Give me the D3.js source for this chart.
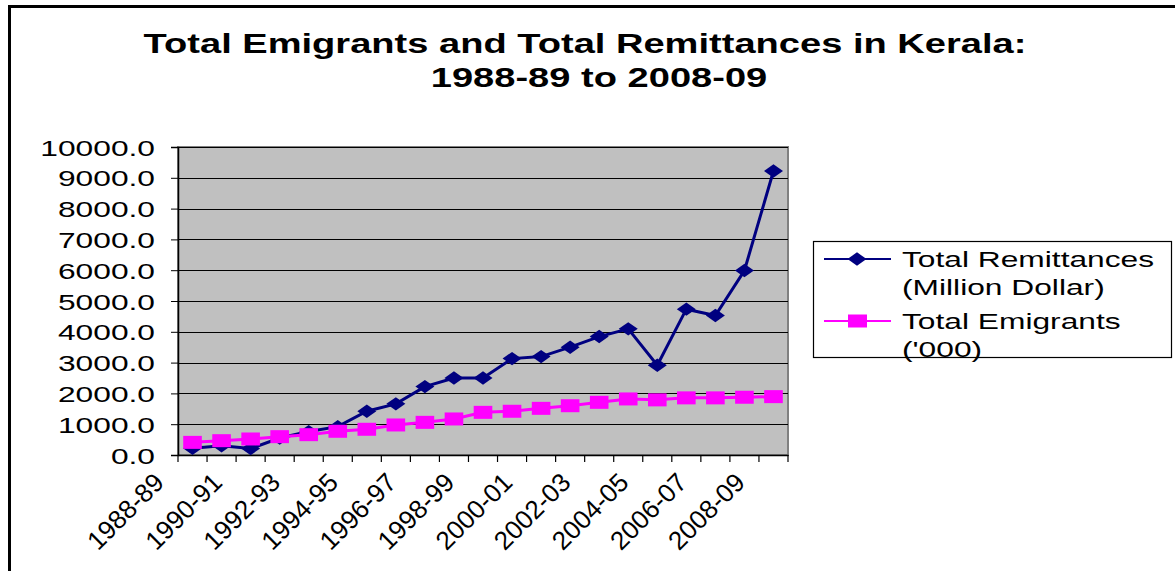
<!DOCTYPE html>
<html>
<head>
<meta charset="utf-8">
<script src="https://cdn.jsdelivr.net/npm/d3@7"></script>
<style>
  body { margin: 0; background: #fff; }
  svg text { font-family: "Liberation Sans", Arial, sans-serif; }
</style>
</head>
<body>
<svg id="chart" width="1175" height="571"></svg>
<script>
// data
const years = ['1988-89','1989-90','1990-91','1991-92','1992-93','1993-94','1994-95',
  '1995-96','1996-97','1997-98','1998-99','1999-00','2000-01','2001-02','2002-03',
  '2003-04','2004-05','2005-06','2006-07','2007-08','2008-09'];
const remittances = [220, 300, 210, 550, 760, 920, 1420, 1660, 2220, 2500, 2500,
  3130, 3195, 3500, 3845, 4095, 2915, 4735, 4530, 5990, 9220];
const emigrants = [410, 465, 520, 595, 660, 770, 835, 975, 1060, 1170, 1385,
  1420, 1515, 1600, 1710, 1820, 1790, 1855, 1855, 1875, 1895];
const yTicks = [0, 1000, 2000, 3000, 4000, 5000, 6000, 7000, 8000, 9000, 10000];
const titleLines = ['Total Emigrants and Total Remittances in Kerala:', '1988-89 to 2008-09'];
const legendLines = [['Total Remittances', '(Million Dollar)'], ['Total Emigrants', "('000)"]];

const SX = 1.41; // the picture is stretched sideways
const svg = d3.select('#chart');

// outer frame (open on right and bottom)
svg.append('rect')
  .attr('x', 9.5).attr('y', 6.5)
  .attr('width', 1400).attr('height', 800)
  .style('fill', 'none')
  .style('stroke', '#000')
  .style('stroke-width', 3);

const plotL = 178, plotR = 788, plotT = 147, plotB = 455;

const x = d3.scaleBand().domain(years).range([plotL, plotR]);
const y = d3.scaleLinear().domain([0, 10000]).range([plotB, plotT]);
const cx = d => x(d) + x.bandwidth() / 2;

// title
svg.selectAll('.title')
  .data(titleLines)
  .enter().append('text')
  .attr('class', 'title')
  .attr('transform', (d, i) => 'translate(' + (i === 0 ? 585 : 599) + ',' + (53 + i * 34) + ') scale(' + SX + ',1)')
  .attr('text-anchor', 'middle')
  .style('font-size', '27px')
  .style('font-weight', 'bold')
  .text(d => d);

// plot area
svg.append('rect')
  .attr('x', plotL).attr('y', plotT)
  .attr('width', plotR - plotL).attr('height', plotB - plotT)
  .style('fill', '#c0c0c0')
  .style('stroke', '#808080')
  .style('stroke-width', 2);

// gridlines
svg.selectAll('.grid')
  .data(yTicks.slice(1))
  .enter().append('line')
  .attr('x1', plotL).attr('x2', plotR)
  .attr('y1', d => Math.round(y(d)) + 0.5)
  .attr('y2', d => Math.round(y(d)) + 0.5)
  .style('stroke', '#000')
  .style('stroke-width', 1.2);

// y axis
const yAxis = svg.append('g')
  .attr('transform', 'translate(' + plotL + ',0)')
  .call(d3.axisLeft(y).tickValues(yTicks).tickSize(7).tickFormat(''));
yAxis.select('.domain').style('stroke', '#000').style('stroke-width', 1.5);
yAxis.selectAll('line').style('stroke', '#000');

svg.selectAll('.ylab')
  .data(yTicks)
  .enter().append('text')
  .attr('class', 'ylab')
  .attr('transform', d => 'translate(155,' + (y(d) + 8.5) + ') scale(' + SX + ',1)')
  .attr('text-anchor', 'end')
  .style('font-size', '22.5px')
  .text(d => d3.format('.1f')(d));

// x axis with ticks at the category edges
const xAxis = svg.append('g')
  .attr('transform', 'translate(0,' + plotB + ')')
  .call(d3.axisBottom(x).tickSize(0).tickFormat(''));
xAxis.select('.domain').style('stroke', '#000').style('stroke-width', 1.5);
svg.selectAll('.xtick')
  .data(years.concat(['end']))
  .enter().append('line')
  .attr('x1', (d, i) => plotL + i * x.bandwidth())
  .attr('x2', (d, i) => plotL + i * x.bandwidth())
  .attr('y1', plotB).attr('y2', plotB + 7)
  .style('stroke', '#000')
  .style('stroke-width', 1.2);

svg.selectAll('.xlab')
  .data(years.filter((d, i) => i % 2 === 0))
  .enter().append('text')
  .attr('class', 'xlab')
  .attr('transform', d => 'translate(' + (cx(d) - 27) + ',484) rotate(-45)')
  .attr('text-anchor', 'end')
  .style('font-size', '26px')
  .text(d => d);

// series
const line = d3.line().x((d, i) => cx(years[i])).y(d => y(d));

const diamond = (px, py) => 'M' + (px - 9.5) + ',' + py + 'L' + px + ',' + (py - 6.7) +
  'L' + (px + 9.5) + ',' + py + 'L' + px + ',' + (py + 6.7) + 'Z';

svg.append('path')
  .datum(remittances)
  .attr('d', line)
  .style('fill', 'none')
  .style('stroke', '#000080')
  .style('stroke-width', 3);
svg.selectAll('.rem')
  .data(remittances)
  .enter().append('path')
  .attr('d', (d, i) => diamond(cx(years[i]), y(d)))
  .style('fill', '#000080');

svg.append('path')
  .datum(emigrants)
  .attr('d', line)
  .style('fill', 'none')
  .style('stroke', '#ff00ff')
  .style('stroke-width', 3);
svg.selectAll('.emi')
  .data(emigrants)
  .enter().append('rect')
  .attr('x', (d, i) => cx(years[i]) - 9.3)
  .attr('y', d => y(d) - 6.5)
  .attr('width', 18.6).attr('height', 13)
  .style('fill', '#ff00ff');

// legend
const legend = svg.append('g');
legend.append('rect')
  .attr('x', 813.5).attr('y', 241.5)
  .attr('width', 358).attr('height', 116)
  .style('fill', '#fff')
  .style('stroke', '#000')
  .style('stroke-width', 1.2);

const legendColors = ['#000080', '#ff00ff'];
const legendY = [259, 321];
legendLines.forEach(function(lines, k) {
  legend.append('line')
    .attr('x1', 824).attr('x2', 891)
    .attr('y1', legendY[k]).attr('y2', legendY[k])
    .style('stroke', legendColors[k])
    .style('stroke-width', 2);
  if (k === 0) {
    legend.append('path').attr('d', diamond(857, legendY[k])).style('fill', legendColors[k]);
  } else {
    legend.append('rect')
      .attr('x', 848).attr('y', legendY[k] - 6.5)
      .attr('width', 19).attr('height', 13)
      .style('fill', legendColors[k]);
  }
  lines.forEach(function(t, j) {
    legend.append('text')
      .attr('transform', 'translate(902,' + (legendY[k] + 8 + j * 28) + ') scale(' + SX + ',1)')
      .style('font-size', '22.5px')
      .text(t);
  });
});
</script>
</body>
</html>
